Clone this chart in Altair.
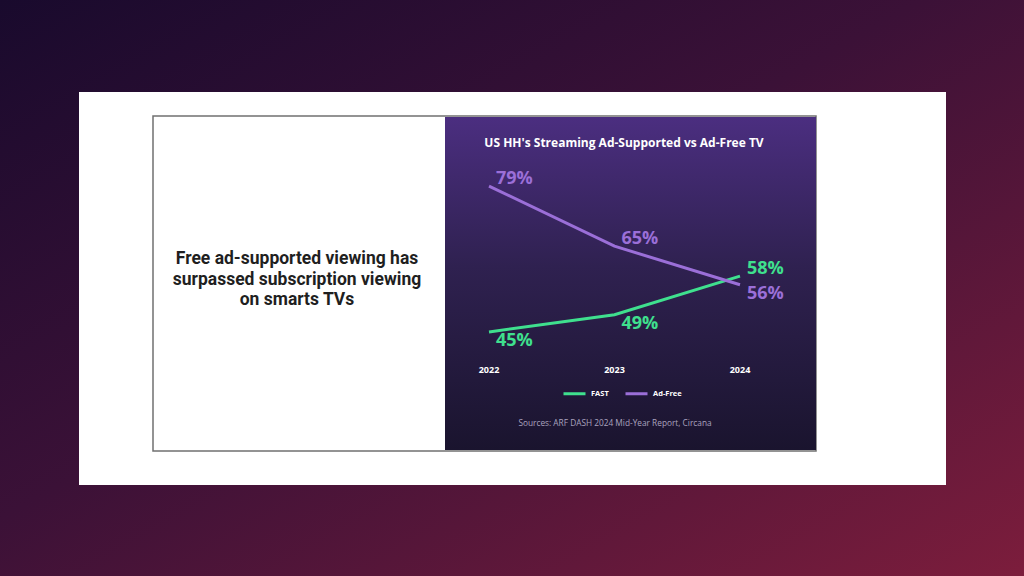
import altair as alt
import pandas as pd

# ---- data ----
years = ["2022", "2023", "2024"]
fast_share = [45, 49, 58]        # % of US households, FAST (ad-supported)
adfree_share = [79, 65, 56]      # % of US households, ad-free streaming
series_names = ["FAST", "Ad-Free"]

chart_title = "US HH's Streaming Ad-Supported vs Ad-Free TV"
headline_lines = [
    "Free ad-supported viewing has",
    "surpassed subscription viewing",
    "on smarts TVs",
]
source_note = "Sources: ARF DASH 2024 Mid-Year Report, Circana"

# ---- styling ----
GREEN = "#3fe08e"
PURPLE = "#9b6fd8"
W, H = 1024, 576
FONT = "Open Sans"

rows = []
for y, f, a in zip(years, fast_share, adfree_share):
    rows.append({"year": y, "series": "FAST", "value": f})
    rows.append({"year": y, "series": "Ad-Free", "value": a})
df = pd.DataFrame(rows)
# the higher of the two series at each year gets its label above the line
df["top"] = df.groupby("year")["value"].transform("max") == df["value"]
df["label"] = df["value"].astype(str) + "%"

one = pd.DataFrame({"k": [0]})

x_enc = alt.X("year:O", scale=alt.Scale(type="point", range=[489, 740], padding=0), axis=None)
y_enc = alt.Y("value:Q", scale=alt.Scale(domain=[0, 100], range=[525, 96]), axis=None)
color_scale = alt.Scale(domain=series_names, range=[GREEN, PURPLE])


def box(x0, x1, y0, y1, **mark):
    return alt.Chart(one).mark_rect(**mark).encode(
        x=alt.value(x0), x2=alt.value(x1), y=alt.value(y0), y2=alt.value(y1)
    )


backdrop = box(
    0, W, 0, H,
    color=alt.LinearGradient(
        gradient="linear", x1=0, y1=0, x2=1, y2=1,
        stops=[
            alt.GradientStop(offset=0, color="#190a2d"),
            alt.GradientStop(offset=0.45, color="#3b1137"),
            alt.GradientStop(offset=1, color="#7c1d3c"),
        ],
    ),
)
card = box(79, 946, 92, 485, color="white")
frame = box(153, 816, 116, 451, fill="white", stroke="#707070", strokeWidth=1.5)
panel = box(
    445, 816, 117, 450,
    color=alt.LinearGradient(
        gradient="linear", x1=0, y1=0, x2=0, y2=1,
        stops=[
            alt.GradientStop(offset=0, color="#4b2e80"),
            alt.GradientStop(offset=0.45, color="#2f2150"),
            alt.GradientStop(offset=1, color="#1a142e"),
        ],
    ),
)

headline = alt.Chart(one).mark_text(
    font="Roboto", fontWeight="bold", fontSize=17.5, color="#1f1f1f",
    align="center", baseline="middle", lineBreak="\n", lineHeight=20.5,
).encode(x=alt.value(297), y=alt.value(259), text=alt.value("\n".join(headline_lines)))

title = alt.Chart(one).mark_text(
    font=FONT, fontWeight="bold", fontSize=12, color="white",
    align="center", baseline="middle",
).encode(x=alt.value(624), y=alt.value(143), text=alt.value(chart_title))

lines = alt.Chart(df).mark_line(strokeWidth=3).encode(
    x=x_enc, y=y_enc,
    color=alt.Color(
        "series:N", scale=color_scale,
        legend=alt.Legend(
            orient="none", legendX=562, legendY=381, direction="horizontal",
            title=None, symbolType="stroke", symbolStrokeWidth=3, symbolSize=484,
            labelColor="white", labelFont=FONT, labelFontWeight="bold",
            labelFontSize=7.5, labelOffset=4, columnPadding=10, padding=0,
        ),
    ),
    order=alt.Order("year:O"),
)

label_style = dict(font=FONT, fontWeight="bold", fontSize=18, align="left", baseline="middle", dx=7)
labels_top = alt.Chart(df).transform_filter("datum.top").mark_text(dy=-7, **label_style).encode(
    x=x_enc, y=y_enc, text="label:N", color=alt.Color("series:N", scale=color_scale, legend=None)
)
labels_bottom = alt.Chart(df).transform_filter("!datum.top").mark_text(dy=9, **label_style).encode(
    x=x_enc, y=y_enc, text="label:N", color=alt.Color("series:N", scale=color_scale, legend=None)
)

year_labels = alt.Chart(pd.DataFrame({"year": years})).mark_text(
    font=FONT, fontWeight="bold", fontSize=9, color="white", align="center", baseline="middle",
).encode(x=x_enc, y=alt.value(370), text="year:N")

source = alt.Chart(one).mark_text(
    font=FONT, fontSize=8.3, color="#aaa3bf", align="center", baseline="middle",
).encode(x=alt.value(615), y=alt.value(424), text=alt.value(source_note))

chart = alt.layer(
    backdrop, card, frame, panel, headline, title,
    lines, labels_top, labels_bottom, year_labels, source,
).properties(
    width=W, height=H, autosize=alt.AutoSizeParams(type="none"), padding=0,
).configure_view(stroke=None).configure(background="#190a2d")

chart.save("out.html", embed_options={"renderer": "svg", "actions": False})
